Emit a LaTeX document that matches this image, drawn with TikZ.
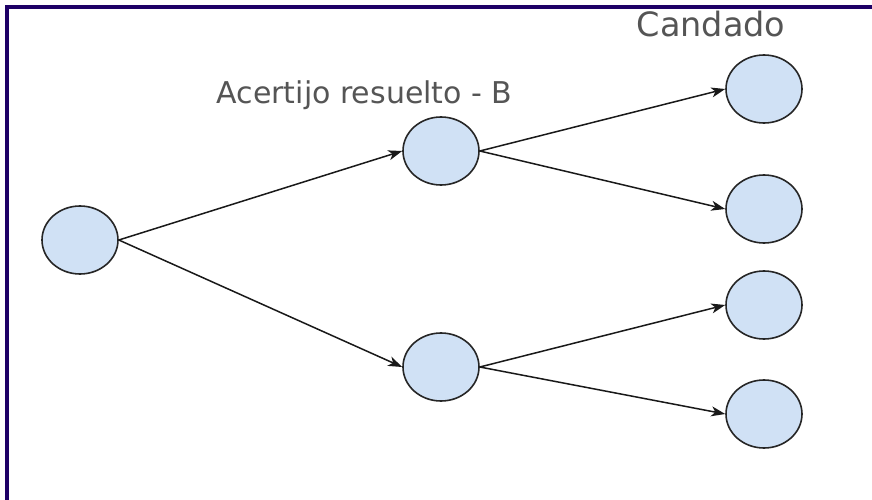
\documentclass[tikz,border=0pt]{standalone}
\usepackage{fontspec}
\setmainfont{DejaVu Sans}
\usetikzlibrary{arrows.meta,shapes.geometric}
\definecolor{framecol}{HTML}{1E0066}
\definecolor{nodefill}{HTML}{D0E1F5}
\definecolor{nodeline}{HTML}{262626}
\definecolor{labelcol}{HTML}{555555}
\tikzset{
  state/.style={ellipse, draw=nodeline, fill=nodefill, line width=1.6pt,
    minimum width=76pt, minimum height=68pt, inner sep=0pt},
  edge/.style={draw=black!90, line width=1.5pt,
    -{Stealth[length=14pt,width=10pt,inset=4pt]}},
  caption/.style={text=labelcol, inner sep=0pt, anchor=base}
}
\begin{document}
\begin{tikzpicture}[x=1pt,y=-1pt]
  \useasboundingbox (0,0) rectangle (872,500);
  \fill[white] (0,0) rectangle (872,500);
  % frame along the top and left
  \draw[framecol, line width=4.5pt] (7.2,500) -- (7.2,7.2) -- (872,7.2);

  % decision tree nodes
  \node[state] (r)  at (80,240)  {};
  \node[state] (m1) at (441,151) {};
  \node[state] (m2) at (441,367) {};
  \node[state] (l1) at (764,89)  {};
  \node[state] (l2) at (764,209) {};
  \node[state] (l3) at (764,305) {};
  \node[state] (l4) at (764,414) {};

  % branches
  \draw[edge] (r.east) -- (m1.west);
  \draw[edge] (r.east) -- (m2.west);
  \draw[edge] (m1.east) -- (l1.west);
  \draw[edge] (m1.east) -- (l2.west);
  \draw[edge] (m2.east) -- (l3.west);
  \draw[edge] (m2.east) -- (l4.west);

  % labels
  \node[caption, font=\fontsize{30}{34}\selectfont] (t1) at (364.5,103) {Acertijo resuelto - B};
  \node[caption, font=\fontsize{33.5}{38}\selectfont] (t2) at (711,37) {Candado};
\end{tikzpicture}
\end{document}
